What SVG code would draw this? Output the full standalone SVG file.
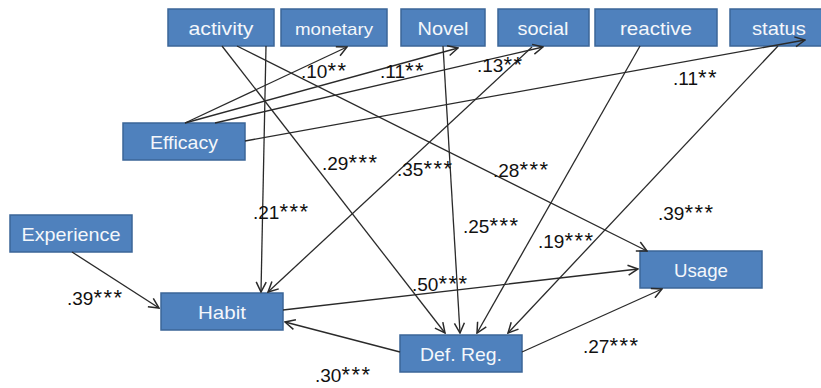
<svg xmlns="http://www.w3.org/2000/svg" width="821" height="388" viewBox="0 0 821 388">
<style>
.box{fill:#4F81BD;stroke:#3B6698;stroke-width:1.5}
.bt{font-family:"Liberation Sans",Arial,sans-serif;font-size:19px;fill:#F4F7FB;text-anchor:middle}
.lb{font-family:"Liberation Sans",Arial,sans-serif;font-size:19px;fill:#111}
.st{font-size:22px;letter-spacing:1.5px}
.c{fill:none;stroke:#2a2a2a;stroke-width:1.3}
</style>
<defs>
<marker id="ah" viewBox="0 0 12 12" refX="11" refY="6" markerWidth="12" markerHeight="12" markerUnits="userSpaceOnUse" orient="auto">
<path d="M1,1 L11,6 L1,11" fill="none" stroke="#2a2a2a" stroke-width="1.5"/>
</marker>
</defs>
<rect width="821" height="388" fill="#fff"/>
<g id="activity"><rect class="box" x="168" y="9" width="106" height="37"/><text class="bt" x="221" y="35" textLength="65" lengthAdjust="spacingAndGlyphs">activity</text></g>
<g id="monetary"><rect class="box" x="281" y="9" width="106" height="37"/><text class="bt" x="334" y="35" textLength="78" lengthAdjust="spacingAndGlyphs" style="font-size:17px">monetary</text></g>
<g id="novel"><rect class="box" x="401" y="9" width="84" height="37"/><text class="bt" x="443" y="35" textLength="51" lengthAdjust="spacingAndGlyphs">Novel</text></g>
<g id="social"><rect class="box" x="498" y="9" width="91" height="37"/><text class="bt" x="543" y="35" textLength="51" lengthAdjust="spacingAndGlyphs">social</text></g>
<g id="reactive"><rect class="box" x="595" y="9" width="122" height="37"/><text class="bt" x="656" y="35" textLength="72" lengthAdjust="spacingAndGlyphs">reactive</text></g>
<g id="status"><rect class="box" x="730" y="9" width="96" height="37"/><text class="bt" x="779" y="35" textLength="54" lengthAdjust="spacingAndGlyphs">status</text></g>
<g id="efficacy"><rect class="box" x="123" y="123" width="122" height="37"/><text class="bt" x="184" y="149" textLength="68" lengthAdjust="spacingAndGlyphs">Efficacy</text></g>
<g id="experience"><rect class="box" x="10" y="215" width="122" height="37"/><text class="bt" x="71" y="241" textLength="99" lengthAdjust="spacingAndGlyphs">Experience</text></g>
<g id="habit"><rect class="box" x="161" y="293" width="122" height="37"/><text class="bt" x="222" y="319" textLength="48" lengthAdjust="spacingAndGlyphs">Habit</text></g>
<g id="defreg"><rect class="box" x="400" y="335" width="122" height="37"/><text class="bt" x="461" y="361" textLength="82" lengthAdjust="spacingAndGlyphs">Def. Reg.</text></g>
<g id="usage"><rect class="box" x="640" y="251" width="122" height="37"/><text class="bt" x="701" y="277" textLength="54" lengthAdjust="spacingAndGlyphs">Usage</text></g>
<g id="connectors">
<path class="c" marker-end="url(#ah)" d="M185,123 L347,47"/>
<path class="c" marker-end="url(#ah)" d="M185,123 L458,48"/>
<path class="c" marker-end="url(#ah)" d="M215,123 L543,47"/>
<path class="c" marker-end="url(#ah)" d="M245,141 L805,40"/>
<path class="c" marker-end="url(#ah)" d="M266,46 L261,292"/>
<path class="c" marker-end="url(#ah)" d="M222,46 L445,333"/>
<path class="c" marker-end="url(#ah)" d="M237,46 L647,251"/>
<path class="c" marker-end="url(#ah)" d="M532,47 L268,292"/>
<path class="c" marker-end="url(#ah)" d="M443,46 L460,333"/>
<path class="c" marker-end="url(#ah)" d="M640,46 L477,333"/>
<path class="c" marker-end="url(#ah)" d="M778,46 L508,333"/>
<path class="c" marker-end="url(#ah)" d="M72,252 L159,308"/>
<path class="c" marker-end="url(#ah)" d="M283,310 L638,269"/>
<path class="c" marker-end="url(#ah)" d="M400,352 L285,322"/>
<path class="c" marker-end="url(#ah)" d="M522,352 L662,289"/>
</g>
<g id="labels">
<text class="lb" x="301" y="78">.10<tspan class="st">**</tspan></text>
<text class="lb" x="380" y="78">.11<tspan class="st">**</tspan></text>
<text class="lb" x="477" y="72">.13<tspan class="st">**</tspan></text>
<text class="lb" x="673" y="85">.11<tspan class="st">**</tspan></text>
<text class="lb" x="322" y="170">.29<tspan class="st">***</tspan></text>
<text class="lb" x="397" y="176">.35<tspan class="st">***</tspan></text>
<text class="lb" x="493" y="177">.28<tspan class="st">***</tspan></text>
<text class="lb" x="253" y="219">.21<tspan class="st">***</tspan></text>
<text class="lb" x="463" y="233">.25<tspan class="st">***</tspan></text>
<text class="lb" x="538" y="248">.19<tspan class="st">***</tspan></text>
<text class="lb" x="658" y="220">.39<tspan class="st">***</tspan></text>
<text class="lb" x="67" y="305">.39<tspan class="st">***</tspan></text>
<text class="lb" x="412" y="291">.50<tspan class="st">***</tspan></text>
<text class="lb" x="315" y="382">.30<tspan class="st">***</tspan></text>
<text class="lb" x="583" y="353">.27<tspan class="st">***</tspan></text>
</g>
</svg>
